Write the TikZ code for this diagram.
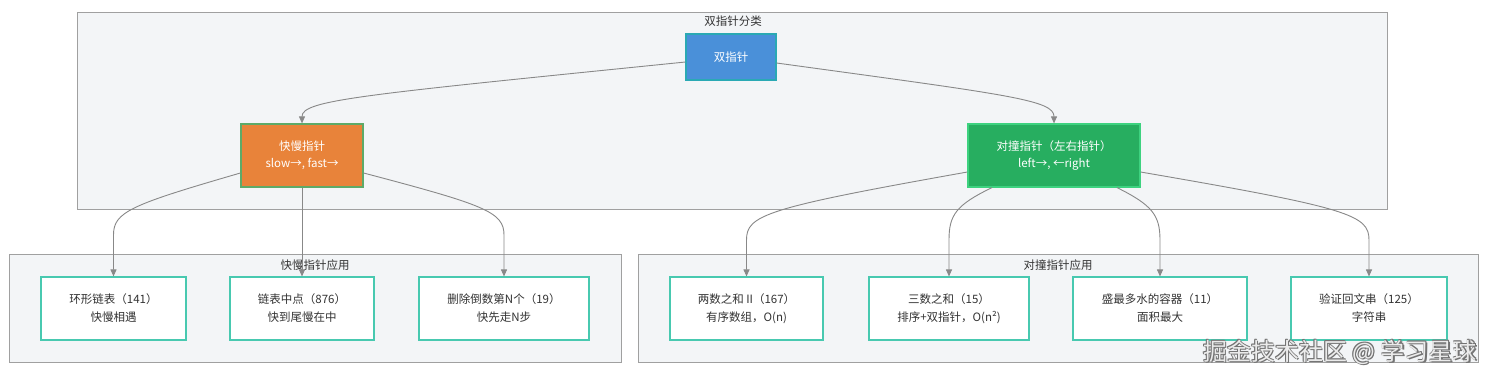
\documentclass[tikz,border=0pt]{standalone}
\usepackage{fontspec}
\setmainfont{Noto Sans CJK SC}
\usetikzlibrary{arrows.meta,calc}
\definecolor{clfill}{HTML}{F3F5F7}
\definecolor{cldraw}{HTML}{A0A0A0}
\definecolor{rootfill}{HTML}{4A90D9}
\definecolor{rootdraw}{HTML}{2AA9B4}
\definecolor{fastfill}{HTML}{E8833A}
\definecolor{fastdraw}{HTML}{5DAA68}
\definecolor{collfill}{HTML}{27AE60}
\definecolor{colldraw}{HTML}{3DD27F}
\definecolor{leafdraw}{HTML}{48C9B0}
\definecolor{edgecol}{HTML}{888888}
\definecolor{txt}{HTML}{333333}
\tikzset{
  cluster/.style={draw=cldraw, fill=clfill, line width=0.9pt},
  cltitle/.style={text=txt, font=\fontsize{11.5}{14}\selectfont, inner sep=0pt},
  colored/.style={line width=1.2pt, text=white, align=center, inner sep=0pt,
    font=\fontsize{11.5}{17}\selectfont},
  leaf/.style={draw=leafdraw, fill=white, line width=1.1pt, text=txt, align=center,
    inner sep=0pt, minimum height=63pt, font=\fontsize{11.5}{18}\selectfont},
  edge/.style={draw=edgecol, line width=0.9pt, -{Triangle[length=7pt,width=6pt]}},
  wmark/.style={font=\fontsize{24}{28}\selectfont, inner sep=0pt},
}
\begin{document}
\begin{tikzpicture}[x=1pt,y=-1pt]
\useasboundingbox (0,0) rectangle (1497,381);
\fill[white] (0,0) rectangle (1497,381);
% clusters
\draw[cluster] (77,12) rectangle (1387,209);
\draw[cluster] (9,254) rectangle (621,362);
\draw[cluster] (638,254) rectangle (1478,362);
\node[cltitle] (t1) at (733,21) {双指针分类};
\node[cltitle] (t2) at (315,265) {快慢指针应用};
\node[cltitle] (t3) at (1058,265) {对撞指针应用};
% main nodes
\node[colored, draw=rootdraw, fill=rootfill, minimum width=90pt, minimum height=46pt] (root) at (731,57) {双指针};
\node[colored, draw=fastdraw, fill=fastfill, minimum width=122pt, minimum height=63pt] (fast) at (302,155.5) {快慢指针\\slow→, fast→};
\node[colored, draw=colldraw, fill=collfill, minimum width=172pt, minimum height=63pt] (coll) at (1054,155.5) {对撞指针（左右指针）\\left→, ←right};
% leaves
\node[leaf, minimum width=145pt] (l1) at (113.5,308.5) {环形链表（141）\\快慢相遇};
\node[leaf, minimum width=144pt] (l2) at (302,308.5) {链表中点（876）\\快到尾慢在中};
\node[leaf, minimum width=170pt] (l3) at (504,308.5) {删除倒数第N个（19）\\快先走N步};
\node[leaf, minimum width=153pt] (l4) at (746.5,308.5) {两数之和 II（167）\\有序数组，O(n)};
\node[leaf, minimum width=160pt] (l5) at (949,308.5) {三数之和（15）\\排序+双指针，O(n²)};
\node[leaf, minimum width=174pt] (l6) at (1160,308.5) {盛最多水的容器（11）\\面积最大};
\node[leaf, minimum width=156pt] (l7) at (1369,308.5) {验证回文串（125）\\字符串};
% edges
\draw[edge] ($(root.west)+(0,5)$) .. controls (360,95) and (302,100) .. (fast.north);
\draw[edge] ($(root.east)+(0,6)$) .. controls (1010,95) and (1054,100) .. (coll.north);
\draw[edge] ($(fast.west)+(0,17.5)$) .. controls (130,205) and (113.5,212) .. (113.5,235) -- (l1.north);
\draw[edge] (fast.south) -- (l2.north);
\draw[edge] ($(fast.east)+(0,17.5)$) .. controls (485,205) and (504,212) .. (504,235) -- (l3.north);
\draw[edge] ($(coll.west)+(0,16.5)$) .. controls (765,208) and (746.5,215) .. (746.5,240) -- (l4.north);
\draw[edge] ($(coll.south)+(-62,0)$) .. controls (956,205) and (949,215) .. (949,240) -- (l5.north);
\draw[edge] ($(coll.south)+(63,0)$) .. controls (1152,205) and (1160,215) .. (1160,240) -- (l6.north);
\draw[edge] ($(coll.east)+(0,16.5)$) .. controls (1350,208) and (1369,215) .. (1369,240) -- (l7.north);
% watermark (outlined look)
\foreach \dx/\dy in {-0.7/-0.7, 0.7/-0.7, -0.7/0.7, 0.7/0.7, 1.3/1.3}{
  \node[wmark, text=black!55] at (1340+\dx,352+\dy) {掘金技术社区 @ 学习星球};
}
\node[wmark, text=black!8] (wm) at (1340,352) {掘金技术社区 @ 学习星球};
\end{tikzpicture}
\end{document}
